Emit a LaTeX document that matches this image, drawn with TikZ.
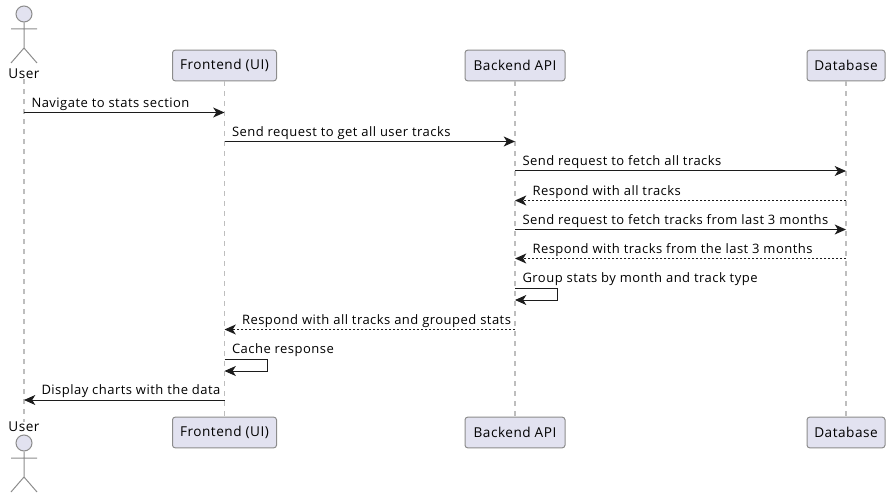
\documentclass[tikz,border=0pt]{standalone}
\usepackage{fontspec}
\setmainfont{Open Sans}
\newfontfamily\msgfont[LetterSpace=3.7]{Open Sans}
\usetikzlibrary{arrows.meta,positioning}
\definecolor{partfill}{HTML}{E2E2F0}
\definecolor{partline}{HTML}{8C8C8C}
\definecolor{lifegray}{HTML}{BEBEBE}
\definecolor{msgline}{HTML}{1C1C1C}

\begin{document}
\begin{tikzpicture}[
    x=0.75pt, y=-0.75pt,
    part/.style={rectangle, draw=partline, fill=partfill, rounded corners=2pt, line width=0.75pt, minimum height=23pt, inner sep=0pt, text=black, font=\msgfont\fontsize{10.2}{12}\selectfont},
    actorlabel/.style={inner sep=0pt, font=\msgfont\fontsize{10.2}{12}\selectfont},
    stick/.style={draw=partline, line width=0.75pt},
    life/.style={draw=lifegray, line width=1.1pt, dash pattern=on 3.75pt off 3.75pt},
    msg/.style={-{Stealth[length=8.5pt, width=7.5pt, inset=2.4pt]}, draw=msgline, line width=0.75pt},
    reply/.style={msg, dash pattern=on 1.5pt off 1.5pt},
    lab/.style={inner sep=0pt, anchor=base west, font=\msgfont\fontsize{9.75}{11}\selectfont}
]
\useasboundingbox (0,0) rectangle (893,499);

% participants
\node[actorlabel] (utop) at (24,74) {User};
\node[part, minimum width=78pt] (ftop) at (224.5,65.5) {Frontend (UI)};
\node[part, minimum width=75pt] (btop) at (515,65.5) {Backend API};
\node[part, minimum width=58.5pt] (dtop) at (846,65.5) {Database};
\node[actorlabel] (ubot) at (24,427) {User};
\node[part, minimum width=78pt] (fbot) at (224.5,432.5) {Frontend (UI)};
\node[part, minimum width=75pt] (bbot) at (515,432.5) {Backend API};
\node[part, minimum width=58.5pt] (dbot) at (846,432.5) {Database};

% lifelines
\draw[life] (utop) -- (ubot);
\draw[life] (ftop) -- (fbot);
\draw[life] (btop) -- (bbot);
\draw[life] (dtop) -- (dbot);

% actors
\node[circle, stick, fill=partfill, minimum size=12pt, inner sep=0pt] (uhead) at (24,14) {};
\coordinate (uhip) at (24,48);
\coordinate (uarml) at (11,29);
\coordinate (uarmr) at (37,29);
\coordinate (ulegl) at (11,63);
\coordinate (ulegr) at (37,63);
\draw[stick] (uhead) -- (uhip) (uarml) -- (uarmr) (ulegl) -- (uhip) -- (ulegr);
\node[circle, stick, fill=partfill, minimum size=12pt, inner sep=0pt] (lhead) at (24,443) {};
\coordinate (lhip) at (24,477);
\coordinate (larml) at (11,458);
\coordinate (larmr) at (37,458);
\coordinate (llegl) at (11,492);
\coordinate (llegr) at (37,492);
\draw[stick] (lhead) -- (lhip) (larml) -- (larmr) (llegl) -- (lhip) -- (llegr);

% message rows
\coordinate (m1) at (0,112.5);
\coordinate (m2) at (0,141.5);
\coordinate (m3) at (0,171);
\coordinate (m4) at (0,200.5);
\coordinate (m5) at (0,229.5);
\coordinate (m6) at (0,258.5);
\coordinate (m7) at (0,288);
\coordinate (m7b) at (0,300);
\coordinate (m8) at (0,329.5);
\coordinate (m9) at (0,359);
\coordinate (m9b) at (0,371);
\coordinate (m10) at (0,400);
\coordinate (bloop) at (557,288);
\coordinate (floop) at (267,359);

\draw[msg] (utop |- m1) -- node[lab, pos=0, xshift=5.25pt, yshift=3.8pt] {Navigate to stats section} (ftop |- m1);
\draw[msg] (ftop |- m2) -- node[lab, pos=0, xshift=5.25pt, yshift=3.8pt] {Send request to get all user tracks} (btop |- m2);
\draw[msg] (btop |- m3) -- node[lab, pos=0, xshift=5.25pt, yshift=3.8pt] {Send request to fetch all tracks} (dtop |- m3);
\draw[reply] (dtop |- m4) -- node[lab, pos=1, xshift=12.75pt, yshift=3.8pt] {Respond with all tracks} (btop |- m4);
\draw[msg] (btop |- m5) -- node[lab, pos=0, xshift=5.25pt, yshift=3.8pt] {Send request to fetch tracks from last 3 months} (dtop |- m5);
\draw[reply] (dtop |- m6) -- node[lab, pos=1, xshift=12.75pt, yshift=3.8pt] {Respond with tracks from the last 3 months} (btop |- m6);
\draw[msg] (btop |- m7) -- node[lab, pos=0, xshift=5.25pt, yshift=3.8pt] {Group stats by month and track type} (bloop) |- (btop |- m7b);
\draw[reply] (btop |- m8) -- node[lab, pos=1, xshift=12.75pt, yshift=3.8pt] {Respond with all tracks and grouped stats} (ftop |- m8);
\draw[msg] (ftop |- m9) -- node[lab, pos=0, xshift=5.25pt, yshift=3.8pt] {Cache response} (floop) |- (ftop |- m9b);
\draw[msg] (ftop |- m10) -- node[lab, pos=1, xshift=12.75pt, yshift=3.8pt] {Display charts with the data} (utop |- m10);
\end{tikzpicture}
\end{document}
